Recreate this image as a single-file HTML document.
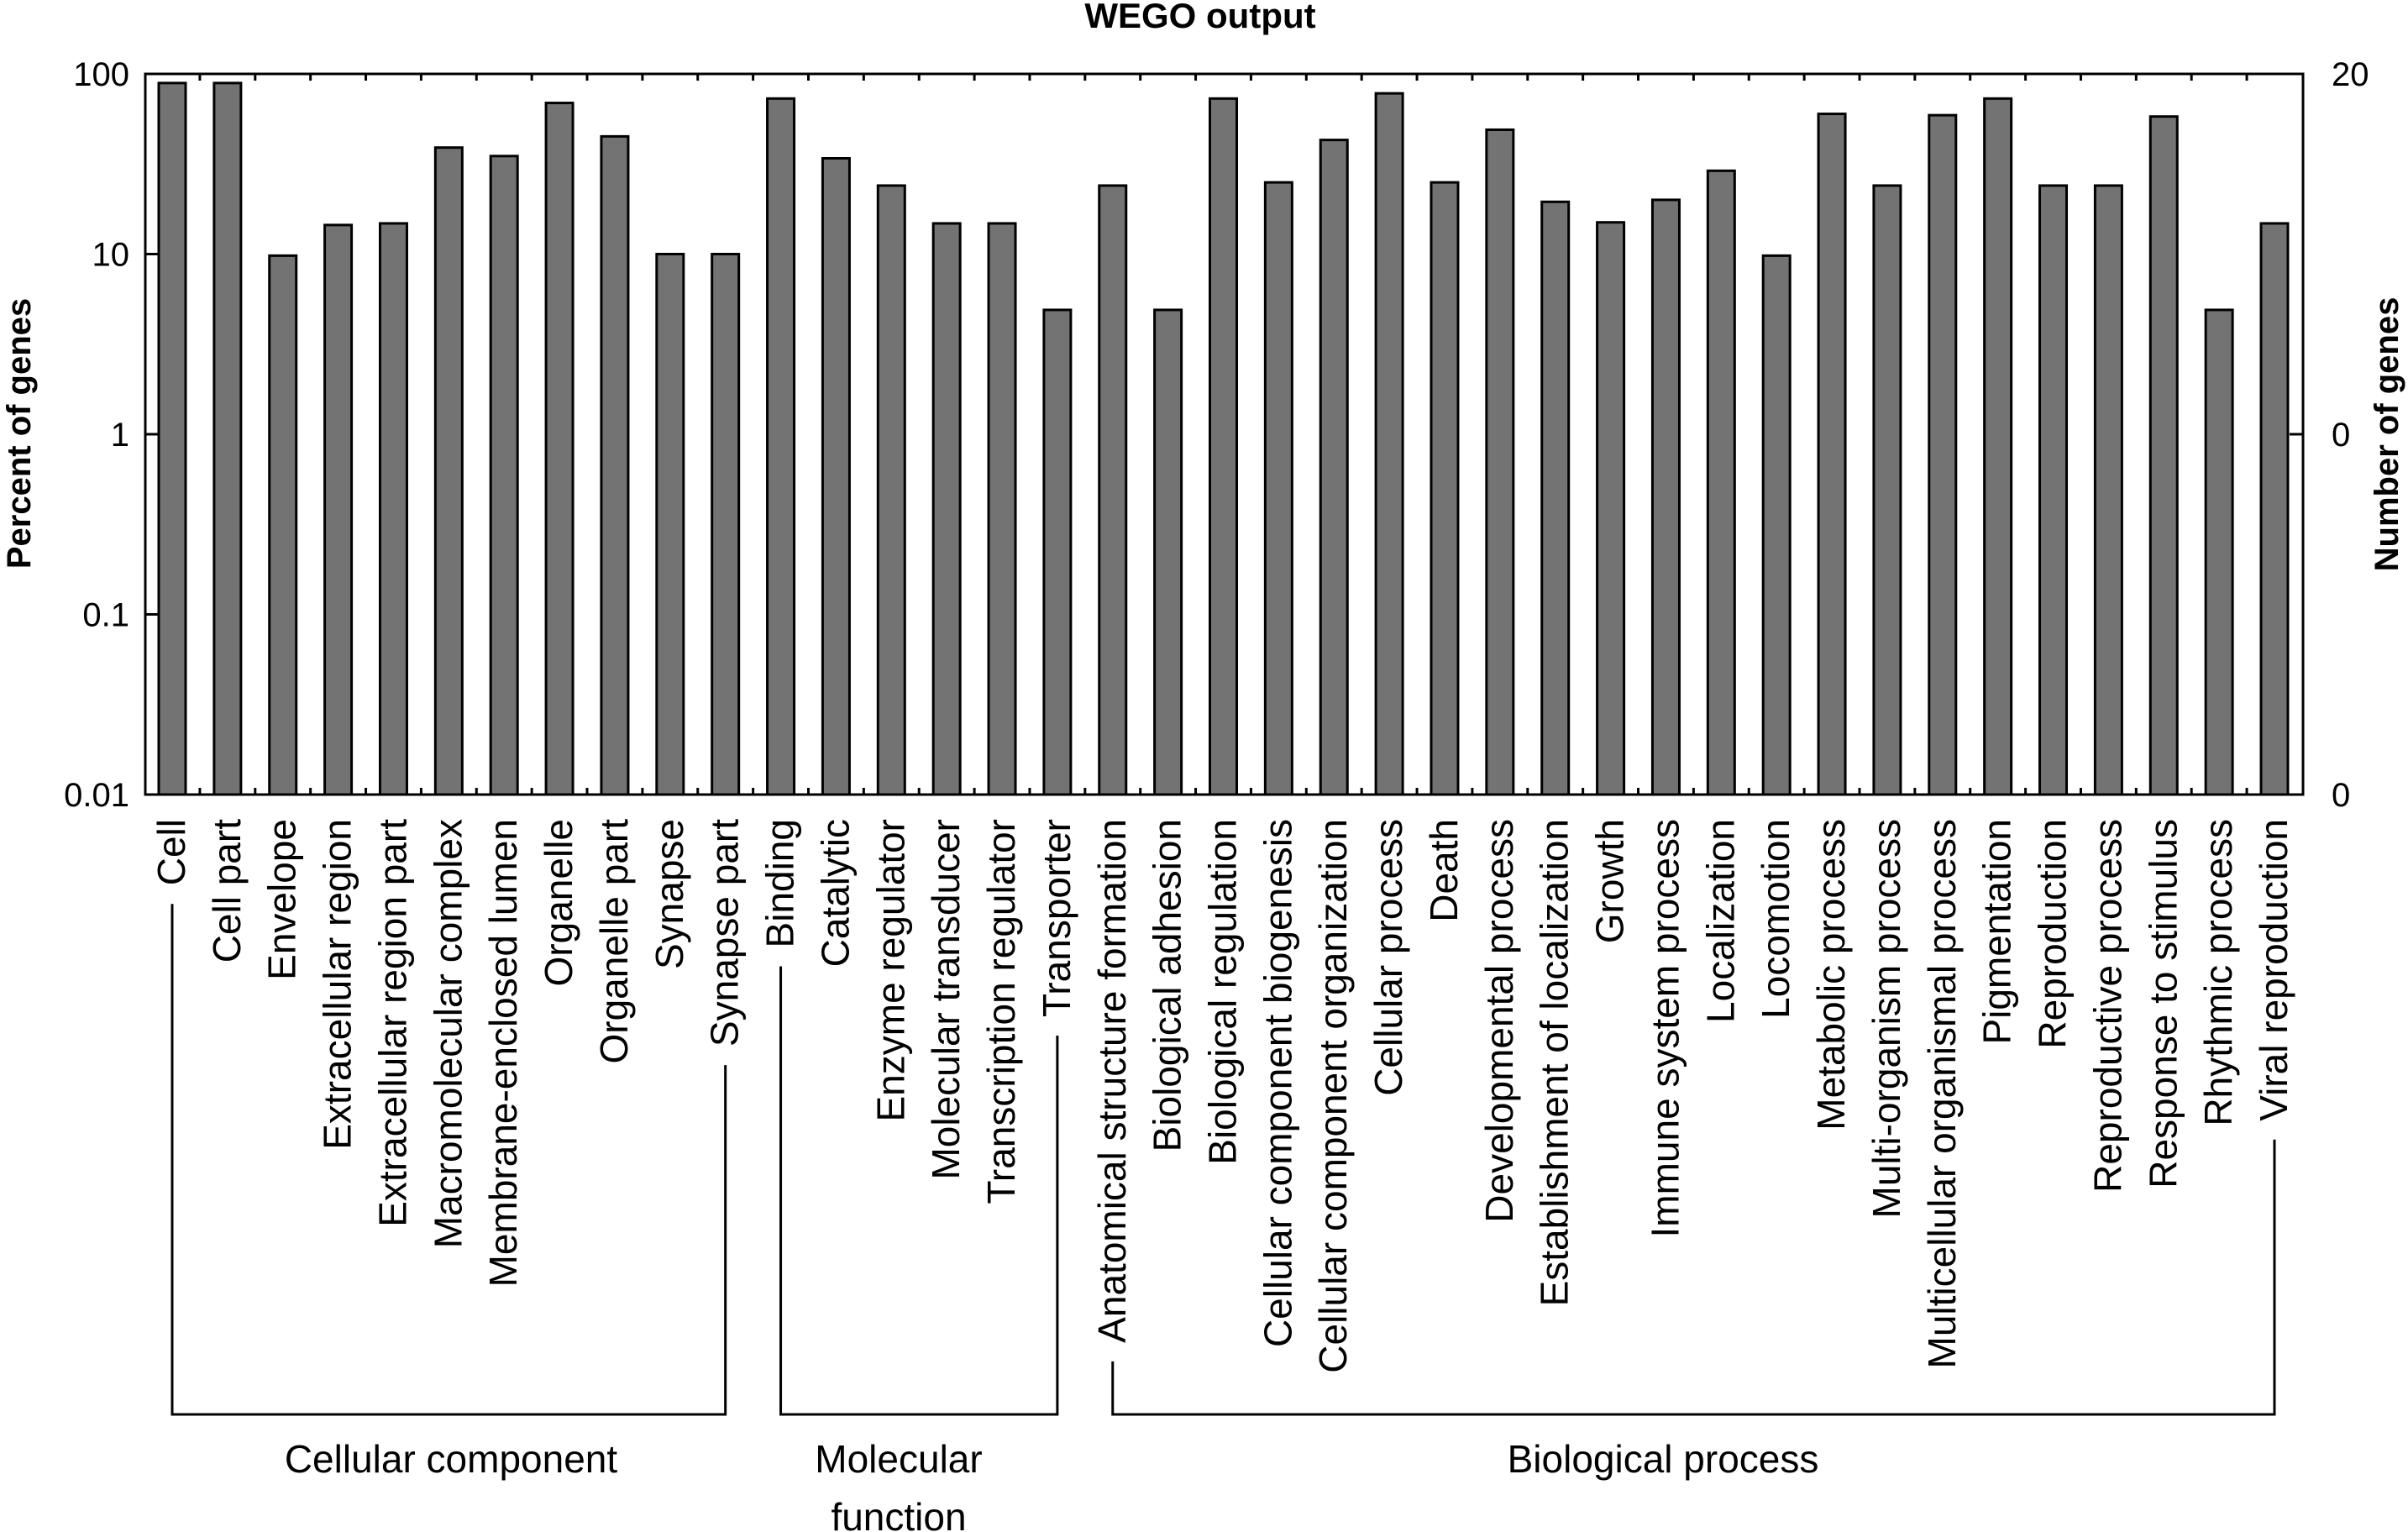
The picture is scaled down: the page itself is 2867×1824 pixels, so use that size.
<!DOCTYPE html>
<html><head><meta charset="utf-8">
<style>
html,body{margin:0;padding:0;background:#fff;}
svg{display:block;}
text{font-family:"Liberation Sans",sans-serif;fill:#000;}
</style></head>
<body>
<svg id="chart" xmlns="http://www.w3.org/2000/svg" width="2867" height="1824" viewBox="0 0 2867 1824">
<text x="1429" y="33" text-anchor="middle" font-size="42" font-weight="bold">WEGO output</text>
<text transform="translate(36,516) rotate(-90)" text-anchor="middle" font-size="40" font-weight="bold">Percent of genes</text>
<text transform="translate(2855,517) rotate(-90)" text-anchor="middle" font-size="40" font-weight="bold">Number of genes</text>
<g id="plot"></g>
</svg>
<script>
const categories = ["Cell","Cell part","Envelope","Extracellular region","Extracellular region part","Macromolecular complex","Membrane-enclosed lumen","Organelle","Organelle part","Synapse","Synapse part","Binding","Catalytic","Enzyme regulator","Molecular transducer","Transcription regulator","Transporter","Anatomical structure formation","Biological adhesion","Biological regulation","Cellular component biogenesis","Cellular component organization","Cellular process","Death","Developmental process","Establishment of localization","Growth","Immune system process","Localization","Locomotion","Metabolic process","Multi-organism process","Multicellular organismal process","Pigmentation","Reproduction","Reproductive process","Response to stimulus","Rhythmic process","Viral reproduction"];
const percentValues = [89,89,9.8,14.5,14.8,39,35,69,45,10,10,73,34,24,14.8,14.8,4.9,24,4.9,73,25,43,78,25,49,19.5,15,20,29,9.8,60,24,59,73,24,24,58,4.9,14.8];
const leftTickValues = [100,10,1,0.1,0.01];
const leftTickLabels = ["100","10","1","0.1","0.01"];
const rightTickLabels = ["20","0","0"];
const rightTickValues = [100,1,0.01];
const groupNames = [["Cellular component"],["Molecular","function"],["Biological process"]];
const groupStart = [0,11,17];
const groupEnd = [10,16,38];

const NS="http://www.w3.org/2000/svg";
const g=document.getElementById('plot');
const L=173,R=2742,T=88,B=946;
const x0=205, step=(2708-205)/38, bw=32;
const groupLabelX=[537,1070,1980];
function xPos(i){return x0+i*step;}
function yPos(v){return T+(2-Math.log10(v))*(B-T)/4;}
function mk(tag,attrs){const e=document.createElementNS(NS,tag);for(const k in attrs)e.setAttribute(k,attrs[k]);g.appendChild(e);return e;}

categories.forEach((c,i)=>{
  const y=yPos(percentValues[i]);
  const r=mk('rect',{x:xPos(i)-bw/2,y:y,width:bw,height:B-y,fill:'#737373',stroke:'#000','stroke-width':3});
  
  
});
const fr=mk('rect',{x:L,y:T,width:R-L,height:B-T,fill:'none',stroke:'#000','stroke-width':3});


for(let i=0;i<38;i++){
  const x=xPos(i)+step/2;
  mk('line',{x1:x,y1:T,x2:x,y2:T+8,stroke:'#000','stroke-width':3});
  mk('line',{x1:x,y1:B,x2:x,y2:B-8,stroke:'#000','stroke-width':3});
}
leftTickValues.forEach((v,i)=>{
  const y=yPos(v);
  mk('line',{x1:L,y1:y,x2:L+15,y2:y,stroke:'#000','stroke-width':3});
  const t=mk('text',{x:154,y:y+14,'text-anchor':'end','font-size':40});
  t.textContent=leftTickLabels[i];
  
  
});
rightTickValues.forEach((v,i)=>{
  const y=yPos(v);
  if(i===1) mk('line',{x1:R-16,y1:y,x2:R,y2:y,stroke:'#000','stroke-width':3});
  const t=mk('text',{x:2776,y:y+14,'font-size':40});
  t.textContent=rightTickLabels[i];
  
  
});
const labelEnds=[];
categories.forEach((c,i)=>{
  const x=xPos(i)+15;
  const t=mk('text',{transform:`translate(${x},975) rotate(-90)`,'text-anchor':'end','font-size':46});
  t.textContent=c;
  
  
  labelEnds.push(975+t.getComputedTextLength());
});
const HY=1684;
groupNames.forEach((nm,k)=>{
  const xa=xPos(groupStart[k]), xb=xPos(groupEnd[k]);
  const ya=labelEnds[groupStart[k]]+22, yb=labelEnds[groupEnd[k]]+22;
  const p=mk('path',{d:`M${xa},${ya} L${xa},${HY} L${xb},${HY} L${xb},${yb}`,fill:'none',stroke:'#000','stroke-width':3});
  
  
  nm.forEach((line,j)=>{
    const t=mk('text',{x:groupLabelX[k],y:1753+j*69,'text-anchor':'middle','font-size':46});
    t.textContent=line;
    
    
  });
});
</script>
</body></html>
